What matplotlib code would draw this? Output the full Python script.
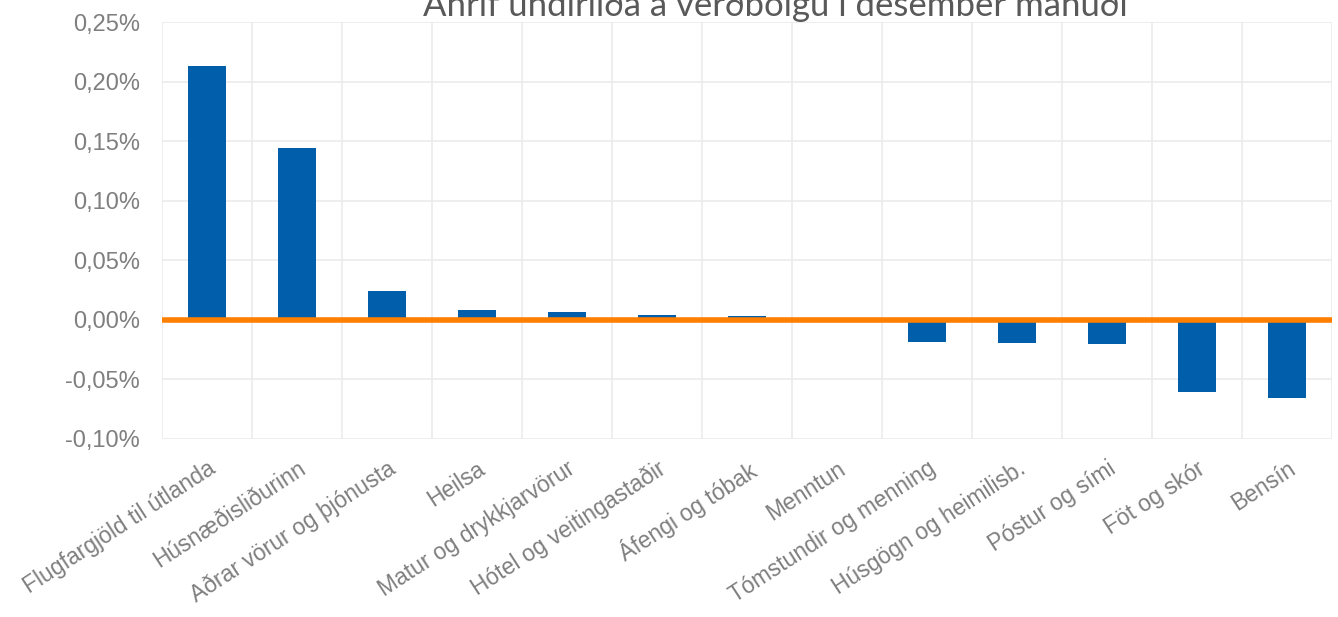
import matplotlib
matplotlib.use("Agg")
import matplotlib.pyplot as plt
from matplotlib.ticker import FuncFormatter, FixedLocator

categories = ["Flugfargjöld til útlanda", "Húsnæðisliðurinn", "Aðrar vörur og þjónusta",
              "Heilsa", "Matur og drykkjarvörur", "Hótel og veitingastaðir", "Áfengi og tóbak",
              "Menntun", "Tómstundir og menning", "Húsgögn og heimilisb.", "Póstur og sími",
              "Föt og skór", "Bensín"]
values = [0.213, 0.144, 0.0243, 0.0084, 0.0067, 0.0042, 0.0035,
          0.0, -0.0185, -0.0196, -0.0204, -0.0607, -0.066]
yticks = [-0.10, -0.05, 0.0, 0.05, 0.10, 0.15, 0.20, 0.25]
title = "Áhrif undirliða á verðbólgu í desember mánuði"

fig = plt.figure(figsize=(13.38, 6.17), dpi=100)
ax = fig.add_axes([162/1338, 1-439/617, (1332-162)/1338, (439-22)/617])

x = list(range(len(categories)))
ax.bar(x, values, width=0.42, color="#005EAA", zorder=2)
ax.axhline(0, color="#FF7F00", linewidth=4, zorder=3)

ax.set_xlim(-0.5, len(categories)-0.5)
ax.set_ylim(-0.10, 0.25)
ax.set_yticks(yticks)
ax.yaxis.set_major_formatter(FuncFormatter(lambda v, p: f"{v:.2f}%".replace(".", ",")))
ax.set_xticks(x)
ax.set_xticklabels(categories, rotation=33, ha="right", rotation_mode="anchor")
ax.xaxis.set_minor_locator(FixedLocator([i + 0.5 for i in range(-1, len(categories))]))
ax.grid(True, axis="y", which="major", color="#EBEBEB", linewidth=1.2, zorder=0)
ax.grid(True, axis="x", which="minor", color="#EBEBEB", linewidth=1.2, zorder=0)
ax.tick_params(axis="both", which="both", length=0)
ax.tick_params(axis="y", labelsize=17, labelcolor="#7F7F7F", pad=16)
ax.tick_params(axis="x", labelsize=16.5, labelcolor="#7F7F7F", pad=13)
for lab in ax.get_xticklabels() + ax.get_yticklabels():
    lab.set_fontfamily("Liberation Sans")
for s in ax.spines.values():
    s.set_visible(False)

fig.text(775/1338, 1-15.5/617, title, ha="center", va="baseline", fontsize=25,
         color="#595959", family="Lato")

fig.savefig("out.png", dpi=100)
